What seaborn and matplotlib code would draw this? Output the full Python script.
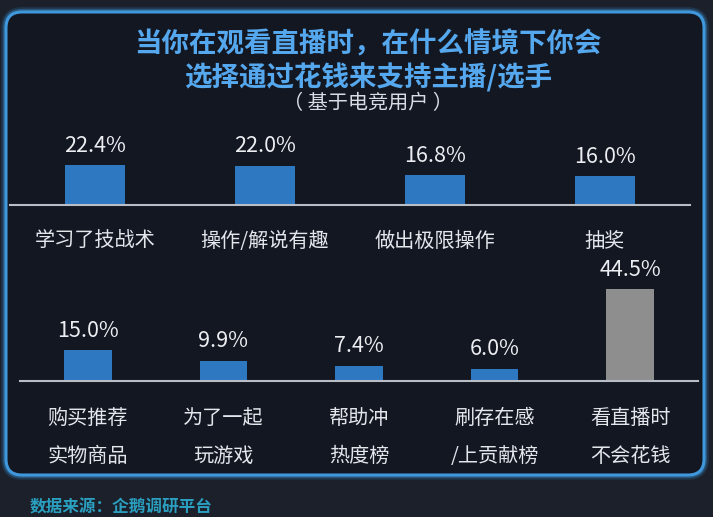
import matplotlib
matplotlib.use("Agg")
import matplotlib.pyplot as plt
from matplotlib.patches import FancyBboxPatch
import seaborn as sns
import pandas as pd

# ---- data ----
top_categories = ["学习了技战术", "操作/解说有趣", "做出极限操作", "抽奖"]
top_values = [22.4, 22.0, 16.8, 16.0]
bottom_categories = ["购买推荐\n实物商品", "为了一起\n玩游戏", "帮助冲\n热度榜", "刷存在感\n/上贡献榜", "看直播时\n不会花钱"]
bottom_values = [15.0, 9.9, 7.4, 6.0, 44.5]
title_line1 = "当你在观看直播时，在什么情境下你会"
title_line2 = "选择通过花钱来支持主播/选手"
subtitle = "（ 基于电竞用户 ）"
source = "数据来源：企鹅调研平台"

BLUE = "#2e78c2"
GRAY = "#8e8e8e"
top_colors = [BLUE] * 4
bottom_colors = [BLUE] * 4 + [GRAY]

sns.set_theme(style="white")
plt.rcParams["font.family"] = ["Noto Sans CJK SC", "DejaVu Sans"]

W, H = 713, 517
fig = plt.figure(figsize=(W / 100, H / 100), dpi=100, facecolor="#1b202b")

# panel with glowing border
for lw, a in [(7, 0.18), (4.5, 0.35)]:
    fig.patches.append(FancyBboxPatch((0.06, 0.42), 6.98, 4.63,
                                      boxstyle="round,pad=0,rounding_size=0.16",
                                      transform=fig.dpi_scale_trans, facecolor="none",
                                      edgecolor="#3a93d6", lw=lw, alpha=a, zorder=-2))
fig.patches.append(FancyBboxPatch((0.06, 0.42), 6.98, 4.63,
                                  boxstyle="round,pad=0,rounding_size=0.16",
                                  transform=fig.dpi_scale_trans, facecolor="#131722",
                                  edgecolor="#3f98dc", lw=2.2, zorder=-1))


def px(x0, y_top, x1, y_bot):
    return [x0 / W, 1 - y_bot / H, (x1 - x0) / W, (y_bot - y_top) / H]


def style_axes(ax, ymax):
    ax.set_facecolor("none")
    ax.set_ylim(0, ymax)
    for s in ["top", "left", "right"]:
        ax.spines[s].set_visible(False)
    ax.spines["bottom"].set_color("#b9bdc6")
    ax.spines["bottom"].set_linewidth(1.5)
    ax.set_yticks([])
    ax.set_xlabel("")
    ax.set_ylabel("")
    ax.tick_params(axis="x", length=0, colors="#e3e6eb", labelsize=14.5)


# top row
ax1 = fig.add_axes(px(10, 130, 690, 205))
df1 = pd.DataFrame({"cat": top_categories, "val": top_values})
sns.barplot(data=df1, x="cat", y="val", hue="cat", palette=top_colors,
            width=0.35, legend=False, ax=ax1, saturation=1, linewidth=0, edgecolor="none")
style_axes(ax1, 75 / 1.79)
ax1.tick_params(axis="x", pad=19)
for c in ax1.containers:
    ax1.bar_label(c, fmt="%.1f%%", padding=6, color="#eceef2", fontsize=15.5)

# bottom row
ax2 = fig.add_axes(px(20, 260, 698, 381))
df2 = pd.DataFrame({"cat": bottom_categories, "val": bottom_values})
sns.barplot(data=df2, x="cat", y="val", hue="cat", palette=bottom_colors,
            width=0.35, legend=False, ax=ax2, saturation=1, linewidth=0, edgecolor="none")
style_axes(ax2, 121 / 2.07)
ax2.tick_params(axis="x", pad=19.5)
for lab in ax2.get_xticklabels():
    lab.set_linespacing(2.05)
for c in ax2.containers:
    ax2.bar_label(c, fmt="%.1f%%", padding=6, color="#eceef2", fontsize=15.5)

# titles
fig.text(368 / W, 1 - 45 / H, title_line1, ha="center", va="center",
         fontsize=19.8, fontweight="bold", color="#55a8ee")
fig.text(368 / W, 1 - 78 / H, title_line2, ha="center", va="center",
         fontsize=19.8, fontweight="bold", color="#55a8ee")
fig.text(368 / W, 1 - 104 / H, subtitle, ha="center", va="center",
         fontsize=14.5, color="#d8dce4")
fig.text(30 / W, 1 - 507 / H, source, ha="left", va="center",
         fontsize=12, fontweight="bold", color="#2a9fbf")

fig.savefig("out.png", dpi=100, facecolor=fig.get_facecolor())
